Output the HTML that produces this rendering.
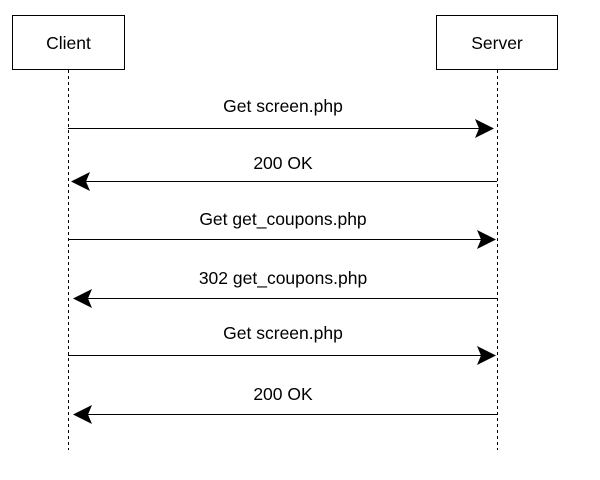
<!DOCTYPE html>
<html><head><style>body{margin:0;background:#fff}svg{display:block}text{font-family:"Liberation Sans",sans-serif;font-size:17.5px;fill:#000}</style></head><body>
<svg width="600" height="480" xmlns="http://www.w3.org/2000/svg">
<rect x="12.5" y="15.5" width="112" height="54" fill="#fff" stroke="#000"/>
<rect x="436.5" y="15.5" width="121" height="54" fill="#fff" stroke="#000"/>
<text x="68.5" y="49" text-anchor="middle">Client</text>
<text x="497" y="49" text-anchor="middle">Server</text>
<line x1="68.5" y1="70" x2="68.5" y2="450" stroke="#000" stroke-dasharray="3,3"/>
<line x1="497.5" y1="70" x2="497.5" y2="450" stroke="#000" stroke-dasharray="3,3"/>
<g stroke="#000" stroke-width="1">
<line x1="68" y1="128.5" x2="480" y2="128.5"/>
<line x1="85" y1="181.5" x2="497" y2="181.5"/>
<line x1="68" y1="239.5" x2="482" y2="239.5"/>
<line x1="88" y1="298.5" x2="497" y2="298.5"/>
<line x1="68" y1="355.5" x2="482" y2="355.5"/>
<line x1="88" y1="414.5" x2="497" y2="414.5"/>
</g>
<g fill="#000">
<path d="M494,128.5 L475,119 L479,128.5 L475,138 Z"/>
<path d="M71,181.5 L90,172 L86,181.5 L90,191 Z"/>
<path d="M496,239.5 L477,230 L481,239.5 L477,249 Z"/>
<path d="M73,298.5 L92,289 L88,298.5 L92,308 Z"/>
<path d="M496,355.5 L477,346 L481,355.5 L477,365 Z"/>
<path d="M73,414.5 L92,405 L88,414.5 L92,424 Z"/>
</g>
<g text-anchor="middle">
<text x="283" y="112">Get screen.php</text>
<text x="283" y="169">200 OK</text>
<text x="283" y="225">Get get_coupons.php</text>
<text x="283" y="284">302 get_coupons.php</text>
<text x="283" y="339">Get screen.php</text>
<text x="283" y="400">200 OK</text>
</g>
</svg>
</body></html>
